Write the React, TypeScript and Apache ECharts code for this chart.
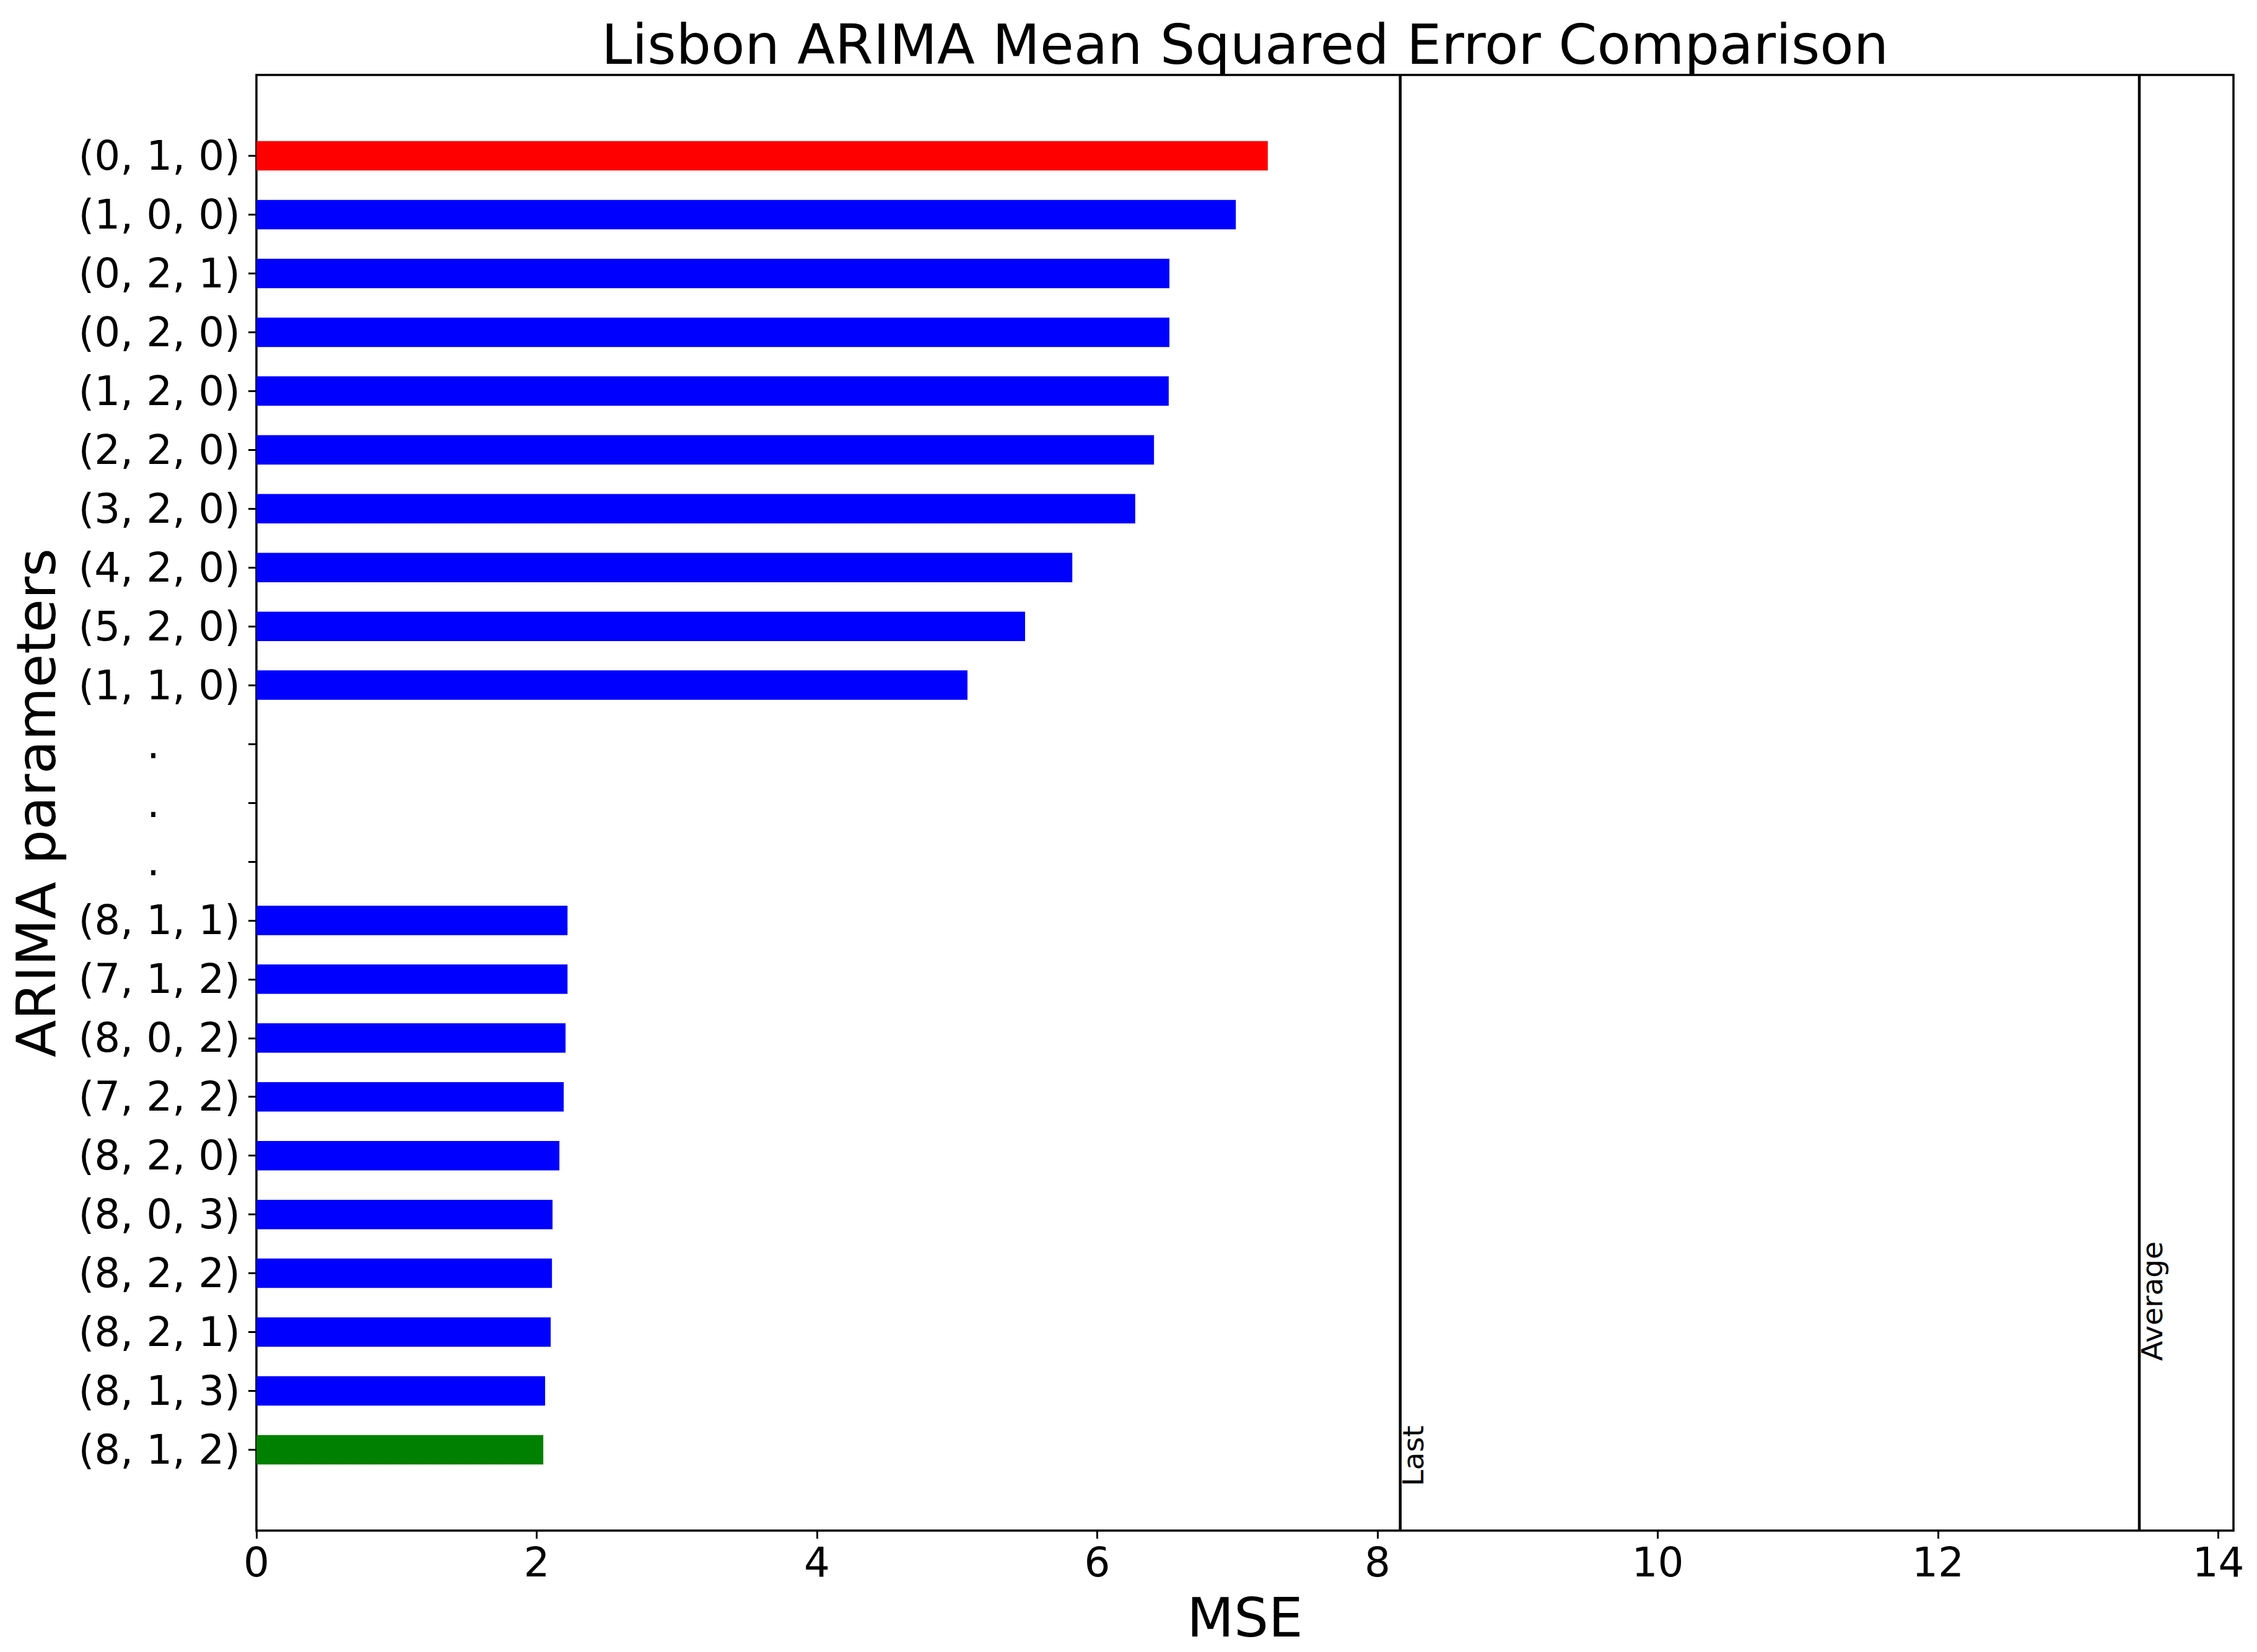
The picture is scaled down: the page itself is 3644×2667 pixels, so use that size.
import React, { useEffect, useRef } from "react";
import * as echarts from "echarts";

// ---- data ----
const topParams = ["(0, 1, 0)", "(1, 0, 0)", "(0, 2, 1)", "(0, 2, 0)", "(1, 2, 0)", "(2, 2, 0)", "(3, 2, 0)", "(4, 2, 0)", "(5, 2, 0)", "(1, 1, 0)"];
const topMSE = [7.217, 6.989, 6.515, 6.515, 6.51, 6.405, 6.271, 5.822, 5.485, 5.074];
const gapLabels = [".", ".", "."];
const bottomParams = ["(8, 1, 1)", "(7, 1, 2)", "(8, 0, 2)", "(7, 2, 2)", "(8, 2, 0)", "(8, 0, 3)", "(8, 2, 2)", "(8, 2, 1)", "(8, 1, 3)", "(8, 1, 2)"];
const bottomMSE = [2.22, 2.22, 2.206, 2.193, 2.162, 2.113, 2.109, 2.1, 2.06, 2.047];
const refNames = ["Last", "Average"];
const refValues = [8.162, 13.436];
const refLabelY = [22.62, 20.49];
const xTicks = [0, 2, 4, 6, 8, 10, 12, 14];

const categories = [...topParams, ...gapLabels, ...bottomParams];
const positions = categories.map((_, i) => i);
const bottomStart = topParams.length + gapLabels.length;
const barData = [
  ...topMSE.map((v, i) => [v, i]),
  ...bottomMSE.map((v, i) => [v, bottomStart + i]),
];
const barColors = barData.map((_, i) =>
  i === 0 ? "#ff0000" : i === barData.length - 1 ? "#008000" : "#0000ff"
);

const BAR_H = 0.5;
const yMin = -BAR_H / 2 - 0.05 * (categories.length - 1 + BAR_H);
const yMax = categories.length - 1 + BAR_H / 2 + 0.05 * (categories.length - 1 + BAR_H);
const xMax = Math.max(...refValues) * 1.05;

const FONT = "DejaVu Sans";

export default function App() {
  const ref = useRef<HTMLDivElement>(null);
  useEffect(() => {
    if (!ref.current) return;
    const chart = echarts.init(ref.current, undefined, { renderer: "svg" });
    const option: any = {
      animation: false,
      backgroundColor: "#ffffff",
      title: {
        text: "Lisbon ARIMA Mean Squared Error Comparison",
        left: 2005,
        top: 22,
        textAlign: "center",
        textStyle: { fontSize: 89, fontWeight: "normal", color: "#000", fontFamily: FONT },
      },
      grid: {
        left: 414,
        top: 121,
        width: 3192,
        height: 2350,
        show: true,
        borderColor: "#000",
        borderWidth: 3.5,
        backgroundColor: "transparent",
        containLabel: false,
      },
      xAxis: {
        type: "value",
        min: 0,
        max: xMax,
        name: "MSE",
        nameLocation: "middle",
        nameGap: 96,
        nameTextStyle: { fontSize: 88, color: "#000", fontFamily: FONT },
        axisLine: { show: false, onZero: false },
        axisTick: { show: true, length: 13, lineStyle: { width: 3, color: "#000" }, customValues: xTicks },
        axisLabel: {
          customValues: xTicks,
          margin: 18,
          fontSize: 66,
          color: "#000",
          fontFamily: FONT,
          formatter: (v: number) => String(v),
        },
        splitLine: { show: false },
      },
      yAxis: {
        type: "value",
        min: yMin,
        max: yMax,
        inverse: true,
        name: "ARIMA parameters",
        nameLocation: "middle",
        nameGap: 312,
        nameTextStyle: { fontSize: 88, color: "#000", fontFamily: FONT },
        axisLine: { show: false, onZero: false },
        axisTick: { show: true, length: 13, lineStyle: { width: 3, color: "#000" }, customValues: positions },
        axisLabel: {
          customValues: positions,
          margin: 26,
          fontSize: 66,
          color: "#000",
          fontFamily: FONT,
          formatter: (v: number) => {
            const c = categories[Math.round(v)];
            return c === "." ? "{dot|.}" : c;
          },
          rich: {
            dot: { fontSize: 66, color: "#000", fontFamily: FONT, padding: [0, 130, 0, 0] },
          },
        },
        splitLine: { show: false },
      },
      series: [
        {
          type: "custom",
          name: "MSE",
          data: barData,
          encode: { x: 0, y: 1 },
          renderItem: (params: any, api: any) => {
            const v = api.value(0);
            const p = api.value(1);
            const s = api.coord([0, p]);
            const e = api.coord([v, p]);
            const h = Math.abs(api.size([0, BAR_H])[1]);
            return {
              type: "rect",
              shape: { x: s[0], y: s[1] - h / 2, width: e[0] - s[0], height: h },
              style: { fill: barColors[params.dataIndex] },
            };
          },
        },
        ...refValues.map((v, i) => ({
          type: "line",
          name: refNames[i],
          data: [
            [v, yMin],
            [v, yMax],
          ],
          symbol: "none",
          lineStyle: { color: "#000", width: 4.5 },
          z: 5,
        })),
        {
          type: "custom",
          name: "labels",
          data: refValues.map((v, i) => [v, refLabelY[i]]),
          encode: { x: 0, y: 1 },
          renderItem: (params: any, api: any) => {
            const pt = api.coord([api.value(0), api.value(1)]);
            return {
              type: "text",
              x: pt[0] - 3,
              y: pt[1],
              rotation: Math.PI / 2,
              style: {
                text: refNames[params.dataIndex],
                fontSize: 47,
                fontFamily: FONT,
                fill: "#000",
                align: "left",
                verticalAlign: "top",
              },
            };
          },
          z: 6,
        },
      ],
    };
    chart.setOption(option);
    return () => chart.dispose();
  }, []);
  return (
    <div
      ref={ref}
      style={{ position: "absolute", left: 0, top: 0, width: 3644, height: 2667, background: "#fff" }}
    />
  );
}
